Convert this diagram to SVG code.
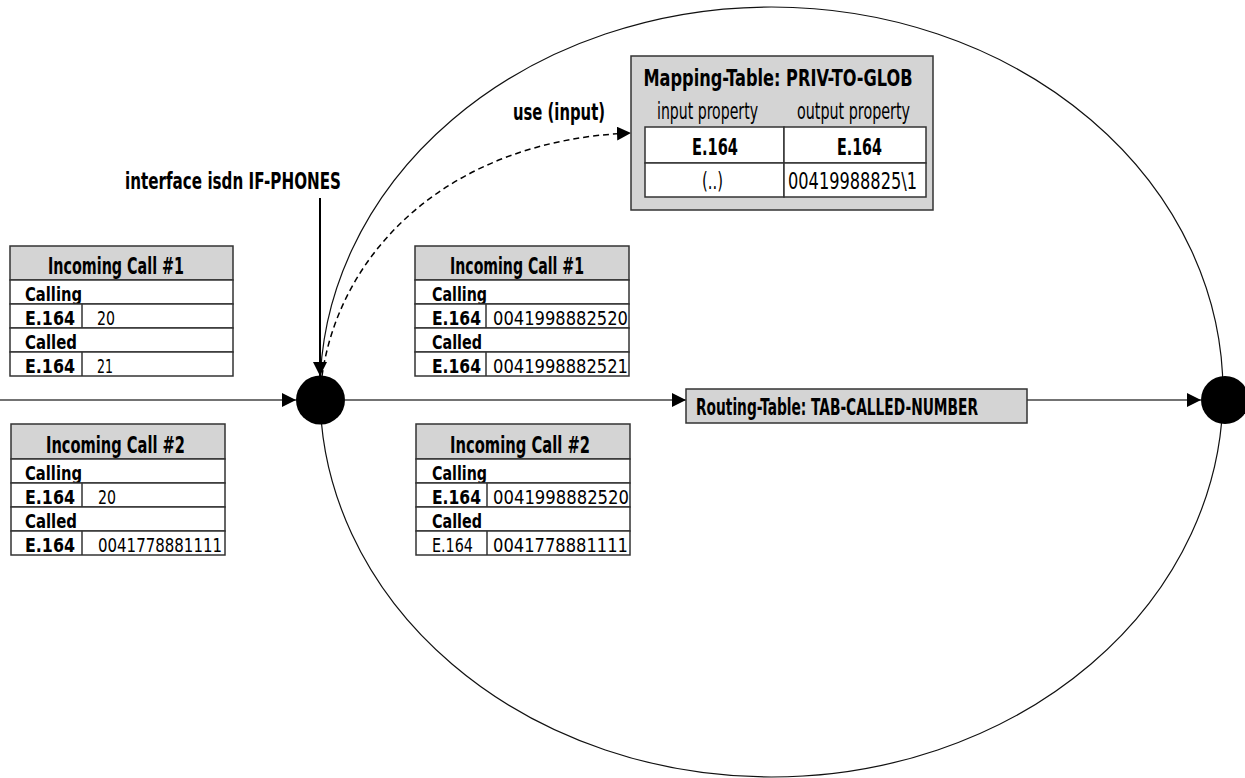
<svg xmlns="http://www.w3.org/2000/svg" width="1245" height="778" viewBox="0 0 1245 778">
<style>
text{font-family:"DejaVu Sans Condensed","DejaVu Sans","Liberation Sans",sans-serif;font-size:23px;fill:#000}
.r{font-size:20px}
.b{font-weight:bold}
.c{text-anchor:middle}
.hd{fill:#d4d4d4;stroke:#333;stroke-width:1.5}
.row{fill:#fff;stroke:#333;stroke-width:1.5}
.div{stroke:#333;stroke-width:1.5}
.ln{fill:none;stroke:#444;stroke-width:1.5}
.dot{fill:#000}
</style>
<defs>
<marker id="ah" markerUnits="userSpaceOnUse" markerWidth="14" markerHeight="14" refX="14" refY="7" orient="auto">
<path d="M0,0 L14,7 L0,14 Z" fill="#000"/>
</marker>
</defs>
<rect width="1245" height="778" fill="#fff"/>
<ellipse id="boundary" cx="771.5" cy="392" rx="451.5" ry="385" fill="none" stroke="#111" stroke-width="1.2"/>

<g id="connectors">
<path class="ln" d="M0,400 L296,400" marker-end="url(#ah)"/>
<path class="ln" d="M345,400 L686,400" marker-end="url(#ah)"/>
<path class="ln" d="M1027,400 L1201,400" marker-end="url(#ah)"/>
<path d="M320,198 L320,376" fill="none" stroke="#000" stroke-width="2" marker-end="url(#ah)"/>
<path d="M322,376 C340,250 450,140 631,133" fill="none" stroke="#000" stroke-width="1.5" stroke-dasharray="6,4" marker-end="url(#ah)"/>
<text class="b" x="125" y="189" textLength="216" lengthAdjust="spacingAndGlyphs">interface isdn IF-PHONES</text>
<text class="b" x="513" y="120" textLength="92" lengthAdjust="spacingAndGlyphs">use (input)</text>
</g>

<g id="node-in">
<circle class="dot" cx="320.5" cy="400" r="24.5"/>
</g>
<g id="node-out">
<circle class="dot" cx="1225" cy="400" r="24"/>
</g>

<g id="call1-before">
<rect class="hd" x="10" y="246" width="223" height="34"/>
<text class="b c" x="116" y="274" textLength="136" lengthAdjust="spacingAndGlyphs">Incoming Call #1</text>
<rect class="row" x="10" y="280" width="223" height="24"/>
<text class="b r" x="25" y="301" textLength="57" lengthAdjust="spacingAndGlyphs">Calling</text>
<rect class="row" x="10" y="304" width="223" height="24"/>
<line class="div" x1="82" y1="304" x2="82" y2="328"/>
<text class="b r" x="25" y="325" textLength="50" lengthAdjust="spacingAndGlyphs">E.164</text>
<text class="r" x="97" y="325" textLength="18" lengthAdjust="spacingAndGlyphs">20</text>
<rect class="row" x="10" y="328" width="223" height="24"/>
<text class="b r" x="25" y="349" textLength="52" lengthAdjust="spacingAndGlyphs">Called</text>
<rect class="row" x="10" y="352" width="223" height="24"/>
<line class="div" x1="82" y1="352" x2="82" y2="376"/>
<text class="b r" x="25" y="373" textLength="50" lengthAdjust="spacingAndGlyphs">E.164</text>
<text class="r" x="97" y="373" textLength="16" lengthAdjust="spacingAndGlyphs">21</text>
</g>

<g id="call2-before">
<rect class="hd" x="11" y="424" width="214" height="35"/>
<text class="b c" x="115.5" y="453" textLength="139" lengthAdjust="spacingAndGlyphs">Incoming Call #2</text>
<rect class="row" x="11" y="459" width="214" height="24"/>
<text class="b r" x="25" y="480" textLength="57" lengthAdjust="spacingAndGlyphs">Calling</text>
<rect class="row" x="11" y="483" width="214" height="24"/>
<line class="div" x1="82" y1="483" x2="82" y2="507"/>
<text class="b r" x="25" y="504" textLength="50" lengthAdjust="spacingAndGlyphs">E.164</text>
<text class="r" x="98" y="504" textLength="18" lengthAdjust="spacingAndGlyphs">20</text>
<rect class="row" x="11" y="507" width="214" height="24"/>
<text class="b r" x="25" y="528" textLength="52" lengthAdjust="spacingAndGlyphs">Called</text>
<rect class="row" x="11" y="531" width="214" height="24"/>
<line class="div" x1="82" y1="531" x2="82" y2="555"/>
<text class="b r" x="25" y="552" textLength="50" lengthAdjust="spacingAndGlyphs">E.164</text>
<text class="r" x="98" y="552" textLength="124" lengthAdjust="spacingAndGlyphs">0041778881111</text>
</g>

<g id="call1-after">
<rect class="hd" x="415" y="246" width="214" height="34"/>
<text class="b c" x="517" y="274" textLength="134" lengthAdjust="spacingAndGlyphs">Incoming Call #1</text>
<rect class="row" x="415" y="280" width="214" height="24"/>
<text class="b r" x="432" y="301" textLength="55" lengthAdjust="spacingAndGlyphs">Calling</text>
<rect class="row" x="415" y="304" width="214" height="24"/>
<line class="div" x1="486" y1="304" x2="486" y2="328"/>
<text class="b r" x="432" y="325" textLength="49" lengthAdjust="spacingAndGlyphs">E.164</text>
<text class="r" x="493" y="325" textLength="135" lengthAdjust="spacingAndGlyphs">0041998882520</text>
<rect class="row" x="415" y="328" width="214" height="24"/>
<text class="b r" x="432" y="349" textLength="50" lengthAdjust="spacingAndGlyphs">Called</text>
<rect class="row" x="415" y="352" width="214" height="24"/>
<line class="div" x1="486" y1="352" x2="486" y2="376"/>
<text class="b r" x="432" y="373" textLength="49" lengthAdjust="spacingAndGlyphs">E.164</text>
<text class="r" x="493" y="373" textLength="135" lengthAdjust="spacingAndGlyphs">0041998882521</text>
</g>

<g id="call2-after">
<rect class="hd" x="416" y="424" width="214" height="35"/>
<text class="b c" x="520" y="453" textLength="140" lengthAdjust="spacingAndGlyphs">Incoming Call #2</text>
<rect class="row" x="416" y="459" width="214" height="24"/>
<text class="b r" x="432" y="480" textLength="55" lengthAdjust="spacingAndGlyphs">Calling</text>
<rect class="row" x="416" y="483" width="214" height="24"/>
<line class="div" x1="487" y1="483" x2="487" y2="507"/>
<text class="b r" x="432" y="504" textLength="49" lengthAdjust="spacingAndGlyphs">E.164</text>
<text class="r" x="493" y="504" textLength="136" lengthAdjust="spacingAndGlyphs">0041998882520</text>
<rect class="row" x="416" y="507" width="214" height="24"/>
<text class="b r" x="432" y="528" textLength="50" lengthAdjust="spacingAndGlyphs">Called</text>
<rect class="row" x="416" y="531" width="214" height="24"/>
<line class="div" x1="487" y1="531" x2="487" y2="555"/>
<text class="r" x="432" y="552" textLength="41" lengthAdjust="spacingAndGlyphs">E.164</text>
<text class="r" x="493" y="552" textLength="135" lengthAdjust="spacingAndGlyphs">0041778881111</text>
</g>

<g id="mapping-table">
<rect class="hd" x="631" y="56" width="302" height="154"/>
<text class="b c" x="778" y="86" textLength="269" lengthAdjust="spacingAndGlyphs">Mapping-Table: PRIV-TO-GLOB</text>
<text class="c" x="707.5" y="119" font-size="21" textLength="101" lengthAdjust="spacingAndGlyphs">input property</text>
<text class="c" x="853.5" y="119" font-size="21" textLength="113" lengthAdjust="spacingAndGlyphs">output property</text>
<rect class="row" x="645" y="127" width="139" height="36"/>
<rect class="row" x="784" y="127" width="142" height="36"/>
<rect class="row" x="645" y="163" width="139" height="34"/>
<rect class="row" x="784" y="163" width="142" height="34"/>
<text class="b c" x="715" y="155" textLength="46" lengthAdjust="spacingAndGlyphs">E.164</text>
<text class="b c" x="859.5" y="155" textLength="45" lengthAdjust="spacingAndGlyphs">E.164</text>
<text class="c" x="712.5" y="189" textLength="21" lengthAdjust="spacingAndGlyphs">(..)</text>
<text class="c" x="852.5" y="189" textLength="129" lengthAdjust="spacingAndGlyphs">00419988825\1</text>
</g>

<g id="routing-table">
<rect class="hd" x="686" y="389" width="341" height="34"/>
<text class="b" x="696" y="415" textLength="282" lengthAdjust="spacingAndGlyphs">Routing-Table: TAB-CALLED-NUMBER</text>
</g>
</svg>
